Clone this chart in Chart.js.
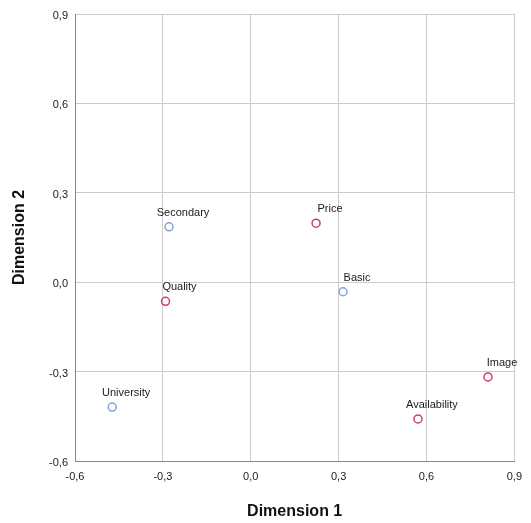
<!DOCTYPE html>
<html>
<head>
<meta charset="utf-8">
<script src="https://cdn.jsdelivr.net/npm/chart.js@4"></script>
<style>
  html, body { margin: 0; padding: 0; background: #fff; }
  #wrap { width: 531px; height: 523px; }
</style>
</head>
<body>
<div id="wrap"><canvas id="chart"></canvas></div>
<script>
// row points (blue)
const rowLabels = ['Secondary', 'Basic', 'University'];
const rowX = [-0.279, 0.315, -0.473];
const rowY = [0.186, -0.032, -0.419];

// column points (magenta)
const colLabels = ['Price', 'Quality', 'Image', 'Availability'];
const colX = [0.223, -0.291, 0.810, 0.571];
const colY = [0.198, -0.064, -0.318, -0.459];

const axisMin = -0.6;
const axisMax = 0.9;
const axisStep = 0.3;

const toPoints = (xs, ys, labels) => xs.map((x, i) => ({ x, y: ys[i], label: labels[i] }));
const fmt = v => Number(v).toFixed(1).replace('.', ',');

const pointLabels = {
    id: 'pointLabels',
    afterDatasetsDraw(chart) {
        const ctx = chart.ctx;
        ctx.save();
        ctx.font = '11px "Liberation Sans", Arial, sans-serif';
        ctx.fillStyle = '#1a1a1a';
        ctx.textAlign = 'center';
        ctx.textBaseline = 'middle';
        chart.data.datasets.forEach((ds, di) => {
            chart.getDatasetMeta(di).data.forEach((pt, i) => {
                ctx.fillText(ds.data[i].label, pt.x + 14, pt.y - 14);
            });
        });
        ctx.restore();
    }
};

const axisTitleFont = { family: '"Liberation Sans", Arial, sans-serif', size: 16, weight: 'bold' };
const tickFont = { family: '"Liberation Sans", Arial, sans-serif', size: 11 };

new Chart(document.getElementById('chart'), {
    type: 'scatter',
    data: {
        datasets: [
            {
                data: toPoints(rowX, rowY, rowLabels),
                borderColor: '#7fa6dc',
                backgroundColor: 'rgba(0,0,0,0)',
                borderWidth: 1.5,
                pointRadius: 4
            },
            {
                data: toPoints(colX, colY, colLabels),
                borderColor: '#cc3f74',
                backgroundColor: 'rgba(0,0,0,0)',
                borderWidth: 1.5,
                pointRadius: 4
            }
        ]
    },
    options: {
        responsive: true,
        maintainAspectRatio: false,
        animation: false,
        layout: { padding: { top: 14, right: 16, left: 0, bottom: 0 } },
        plugins: { legend: { display: false }, tooltip: { enabled: false } },
        scales: {
            x: {
                min: axisMin, max: axisMax,
                ticks: { stepSize: axisStep, callback: fmt, color: '#1a1a1a', font: tickFont, padding: 9, maxRotation: 0 },
                grid: { color: '#cccccc', drawTicks: false },
                border: { color: '#888888', width: 1 },
                title: { display: true, text: 'Dimension 1', color: '#111', font: axisTitleFont, padding: { top: 0, bottom: 2 } },
                afterFit: s => { s.height = 62; }
            },
            y: {
                min: axisMin, max: axisMax,
                ticks: { stepSize: axisStep, callback: fmt, color: '#1a1a1a', font: tickFont, padding: 7, labelOffset: 2 },
                grid: { color: '#cccccc', drawTicks: false },
                border: { color: '#888888', width: 1 },
                title: { display: true, text: 'Dimension 2', color: '#111', font: axisTitleFont, padding: { top: 10, bottom: 0 } },
                afterFit: s => { s.width = 75; }
            }
        }
    },
    plugins: [pointLabels]
});
</script>
</body>
</html>
